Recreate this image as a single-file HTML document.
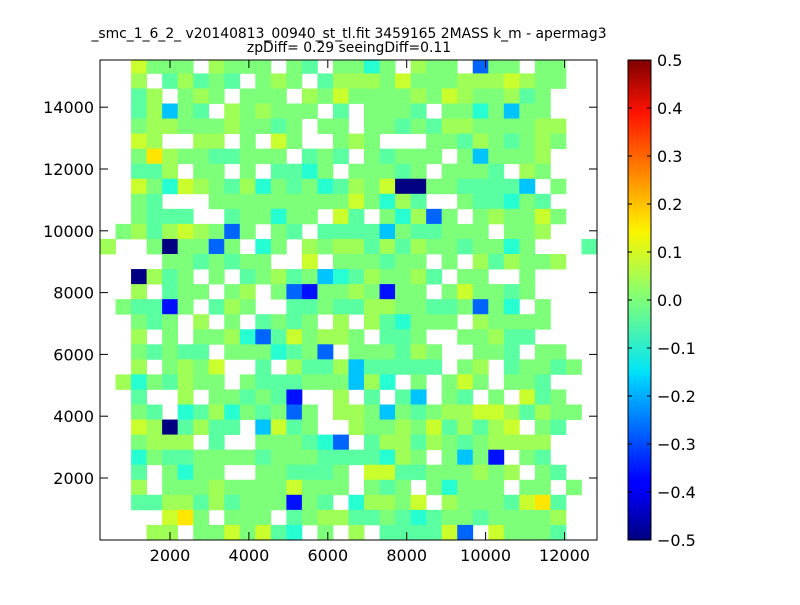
<!DOCTYPE html>
<html><head><meta charset="utf-8"><style>
html,body{margin:0;padding:0;background:#fff;}
body{width:800px;height:600px;overflow:hidden;}
</style></head><body>
<svg id="s" width="800" height="600" xmlns="http://www.w3.org/2000/svg" font-family="DejaVu Sans, sans-serif">
<defs>
<linearGradient id="jet" x1="0" y1="1" x2="0" y2="0">
<stop offset="0" stop-color="#000080"/>
<stop offset="0.11" stop-color="#0000ff"/>
<stop offset="0.125" stop-color="#0000ff"/>
<stop offset="0.34" stop-color="#00d4ff"/>
<stop offset="0.35" stop-color="#00e4f8"/>
<stop offset="0.5" stop-color="#7dff7a"/>
<stop offset="0.64" stop-color="#f8f500"/>
<stop offset="0.66" stop-color="#ffe600"/>
<stop offset="0.89" stop-color="#ff1300"/>
<stop offset="1" stop-color="#800000"/>
</linearGradient>
</defs>
<rect width="800" height="600" fill="#fff"/>
<g id="cells"></g>
<rect x="100" y="60" width="497" height="480" fill="none" stroke="#000" stroke-width="1"/>
<text x="349" y="38" font-size="13.9" text-anchor="middle">_smc_1_6_2_ v20140813_00940_st_tl.fit 3459165 2MASS k_m - apermag3</text>
<text x="349" y="52" font-size="13.9" text-anchor="middle">zpDiff= 0.29 seeingDiff=0.11</text>
<g id="ticks" stroke="#000" stroke-width="1"></g>
<g id="labels" font-size="16"></g>
<rect x="628" y="60" width="23" height="480" fill="url(#jet)" stroke="#000" stroke-width="1"/>
<g id="cb" font-size="16"></g>
</svg>
<script>
var rows=[
"WWyGGGWgGGGWGaWGGcGWgGGWbGGWGGWW",
"WWgWagaGaWGgGWagggGyGGGgggygGGWW",
"WWagWGgGWGGGWgGyGGGGgGygGGgaGWWW",
"WWagCGaWgGgGGGWaWGGGaWGGcGCGGWWW",
"WWGggGGGgGGaGWGGWGGaGaggGGGGggWW",
"WWygWWggWGWyGWWGgGWWWGGagGaGgGWW",
"WWGYgGGaaGGGWaGaWGaGGGWGCGGGgWWW",
"WWaagWGGWGWaacGWGGGaGWGGGaWgGWWW",
"WWyGcygGagcGaGcagGyNNGGaaaaCWGWW",
"WWGaWWWGGGGGGGGGyGcgaWWGaacGaWWW",
"WWGaaaWWaGGcGGWyaWGcgbGWGgGGyGWW",
"WGgagygGbGWGaWaaaaCGaaGGGWGGgWWW",
"gWWGNGGbGWcGWgGggagagGGaGGcGWWWa",
"WWWWGGaGaGGWWyWGGGaGGWGWgagGGgWW",
"WWNgaGWGWaGgaGCcagGGgaWGGWWGWWWW",
"WWgWaGGWGgWGbBGGgGBGGWGyGGaGWWWW",
"WGaaBGWagGWWaaGaaggGGaaGbGcWGWWW",
"WWGaGWgWGWaGaGWgWgacGGGWgGGGGWWW",
"WWgWGWGGgcbayGggGWaaGWWGGgaaWWWW",
"WWGaGaaWGGGcaGbWGGGagGWWGGaWGGWW",
"WWgWGgGyWWaWgaagCaaaaaWGgWaGGaGW",
"WgcGagGGWGaaaGGGCgcWGWGyGWGGaWWW",
"WWaWWgWGGaGaBWWgWaWaCWGaWGWyaGWW",
"WWGaWcagcGaGbGWggGCGaGggyygagGGW",
"WWygNagaaWCyaGWWgGGgGyagagyWGaWW",
"WWGgggWaWWGGGacbWaggagGaGggggWWW",
"WWcGaaGGGGaGGGaaaacgGWGCGBWGaWWW",
"WWaWGcGGWWGGaaaGWyyaaGGGgGgWGaWW",
"WWgWGGGgGGGGyGGGWGaGWGcGGGWGGWGW",
"WWaaggagaGGGBGaWcggGyWgGGGayYaWW",
"WWWWyYGWGGGWaGggaaGacaGGaGGGGgWW",
"WWWggWGGyGyacWGWgWaaaaybWyGGGaWW"];
var col={G:"#7dff7a",g:"#a0ff57",y:"#caff2d",Y:"#ffe600",a:"#5affa2",c:"#26ffd2",C:"#00c4ff",b:"#0064ff",B:"#0010ff",N:"#000080"};
var h="";
var cw=497/32;
for(var r=0;r<rows.length;r++){
 var y0,hh;
 if(r==0){y0=60;hh=13.4;}else{y0=73.4+15.05*(r-1);hh=15.05;}
 for(var c=0;c<32;c++){
  var k=rows[r].charAt(c);
  if(!k||k=="W")continue;
  h+='<rect x="'+(100+c*cw).toFixed(2)+'" y="'+y0.toFixed(2)+'" width="'+(cw+0.4).toFixed(2)+'" height="'+(hh+0.4).toFixed(2)+'" fill="'+col[k]+'"/>';
 }
}
document.getElementById("cells").innerHTML=h;
var t="",l="";
var xs=[[2000,170],[4000,248.9],[6000,327.8],[8000,406.7],[10000,485.6],[12000,564.5]];
xs.forEach(function(p){
 t+='<line x1="'+p[1]+'" y1="540" x2="'+p[1]+'" y2="532"/><line x1="'+p[1]+'" y1="60" x2="'+p[1]+'" y2="68"/>';
 l+='<text x="'+p[1]+'" y="561" text-anchor="middle">'+p[0]+'</text>';
});
for(var i=1;i<=7;i++){
 var yy=478-61.8*(i-1);
 t+='<line x1="100" y1="'+yy+'" x2="108" y2="'+yy+'"/><line x1="597" y1="'+yy+'" x2="589" y2="'+yy+'"/>';
 l+='<text x="94" y="'+(yy+6)+'" text-anchor="end">'+(2000*i)+'</text>';
}
document.getElementById("ticks").innerHTML=t;
document.getElementById("labels").innerHTML=l;
var cb="";
var vals=["0.5","0.4","0.3","0.2","0.1","0.0","\u22120.1","\u22120.2","\u22120.3","\u22120.4","\u22120.5"];
for(var j=0;j<11;j++){
 var yy=60+48*j;
 cb+='<line x1="628" y1="'+yy+'" x2="632" y2="'+yy+'" stroke="#000"/><line x1="651" y1="'+yy+'" x2="647" y2="'+yy+'" stroke="#000"/>';
 cb+='<text x="657" y="'+(yy+6)+'">'+vals[j]+'</text>';
}
document.getElementById("cb").innerHTML=cb;
</script>
</body></html>
